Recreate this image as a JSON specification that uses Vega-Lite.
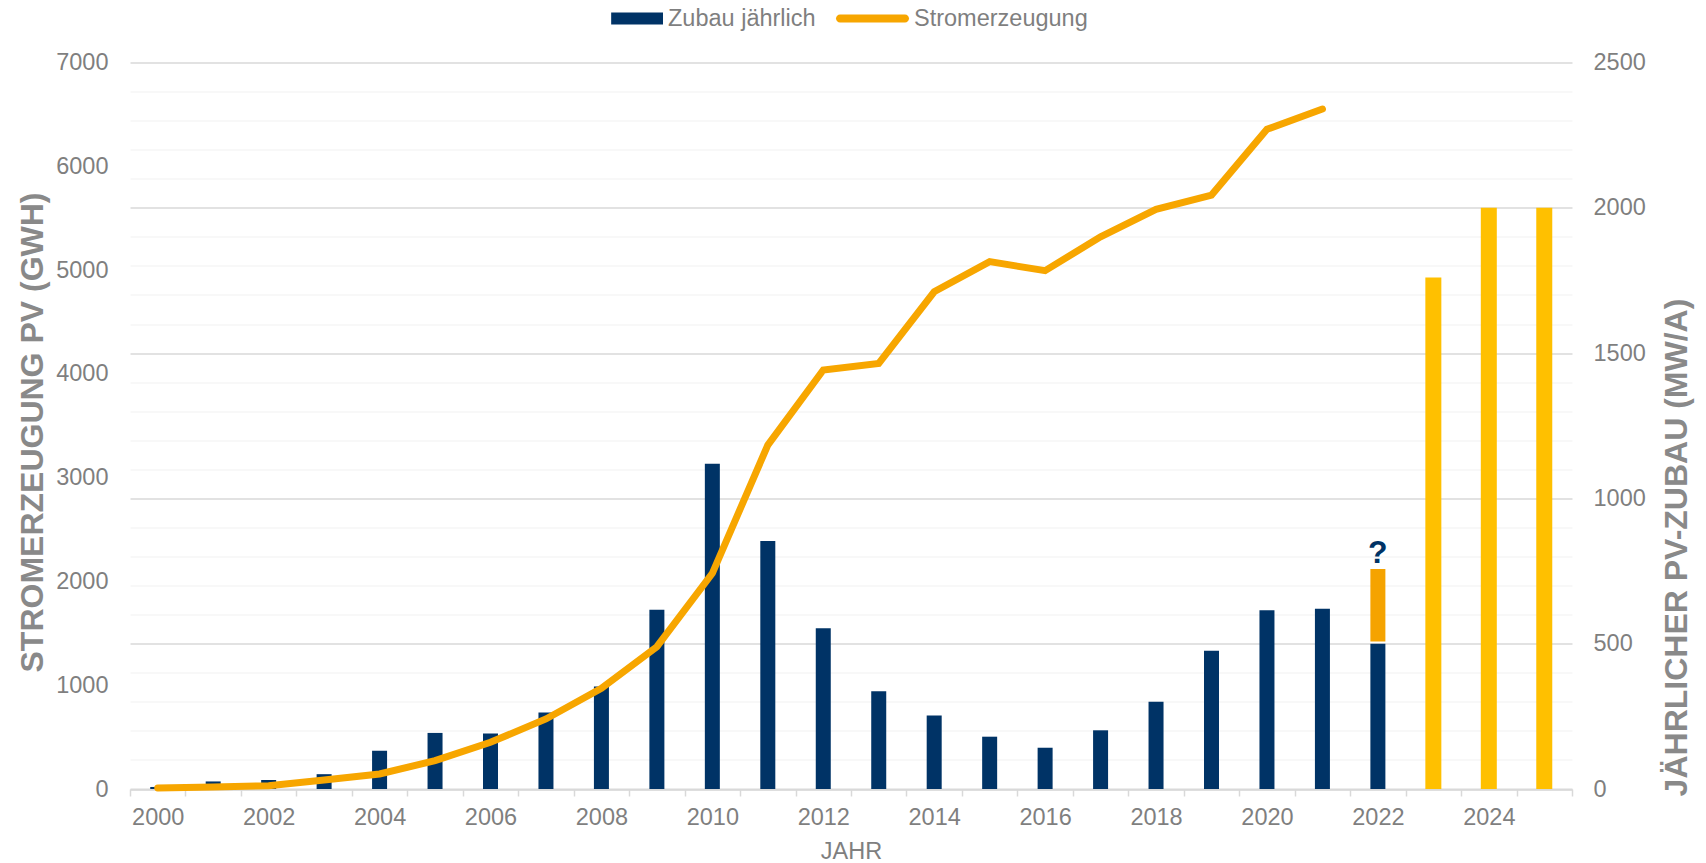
{
  "$schema": "https://vega.github.io/schema/vega-lite/v6.json",
  "width": 1442,
  "height": 726.5,
  "autosize": {"type": "none"},
  "padding": {"left": 130, "top": 62.5, "right": 134, "bottom": 73.5},
  "background": "white",
  "config": {
    "view": {"stroke": null},
    "font": "Liberation Sans",
    "text": {"font": "Liberation Sans"}
  },
  "datasets": {
    "zubau": [
      {"year": "2000", "mw": 7, "series": "Zubau jährlich"},
      {"year": "2001", "mw": 26, "series": "Zubau jährlich"},
      {"year": "2002", "mw": 31, "series": "Zubau jährlich"},
      {"year": "2003", "mw": 51, "series": "Zubau jährlich"},
      {"year": "2004", "mw": 132, "series": "Zubau jährlich"},
      {"year": "2005", "mw": 193, "series": "Zubau jährlich"},
      {"year": "2006", "mw": 191, "series": "Zubau jährlich"},
      {"year": "2007", "mw": 263, "series": "Zubau jährlich"},
      {"year": "2008", "mw": 353, "series": "Zubau jährlich"},
      {"year": "2009", "mw": 617, "series": "Zubau jährlich"},
      {"year": "2010", "mw": 1119, "series": "Zubau jährlich"},
      {"year": "2011", "mw": 853, "series": "Zubau jährlich"},
      {"year": "2012", "mw": 553, "series": "Zubau jährlich"},
      {"year": "2013", "mw": 336, "series": "Zubau jährlich"},
      {"year": "2014", "mw": 253, "series": "Zubau jährlich"},
      {"year": "2015", "mw": 180, "series": "Zubau jährlich"},
      {"year": "2016", "mw": 142, "series": "Zubau jährlich"},
      {"year": "2017", "mw": 202, "series": "Zubau jährlich"},
      {"year": "2018", "mw": 300, "series": "Zubau jährlich"},
      {"year": "2019", "mw": 476, "series": "Zubau jährlich"},
      {"year": "2020", "mw": 615, "series": "Zubau jährlich"},
      {"year": "2021", "mw": 620, "series": "Zubau jährlich"},
      {"year": "2022", "mw": 500, "series": "Zubau jährlich"}
    ],
    "offen": [
      {"year": "2022", "mw": 508, "mw2": 757}
    ],
    "frage": [
      {"year": "2022", "mw": 757, "label": "?"}
    ],
    "plan": [
      {"year": "2023", "mw": 1760},
      {"year": "2024", "mw": 2000},
      {"year": "2025", "mw": 2000}
    ],
    "strom": [
      {"year": "2000", "gwh": 10, "series": "Stromerzeugung"},
      {"year": "2001", "gwh": 19, "series": "Stromerzeugung"},
      {"year": "2002", "gwh": 32, "series": "Stromerzeugung"},
      {"year": "2003", "gwh": 87, "series": "Stromerzeugung"},
      {"year": "2004", "gwh": 145, "series": "Stromerzeugung"},
      {"year": "2005", "gwh": 273, "series": "Stromerzeugung"},
      {"year": "2006", "gwh": 450, "series": "Stromerzeugung"},
      {"year": "2007", "gwh": 675, "series": "Stromerzeugung"},
      {"year": "2008", "gwh": 970, "series": "Stromerzeugung"},
      {"year": "2009", "gwh": 1371, "series": "Stromerzeugung"},
      {"year": "2010", "gwh": 2078, "series": "Stromerzeugung"},
      {"year": "2011", "gwh": 3314, "series": "Stromerzeugung"},
      {"year": "2012", "gwh": 4037, "series": "Stromerzeugung"},
      {"year": "2013", "gwh": 4101, "series": "Stromerzeugung"},
      {"year": "2014", "gwh": 4791, "series": "Stromerzeugung"},
      {"year": "2015", "gwh": 5081, "series": "Stromerzeugung"},
      {"year": "2016", "gwh": 4994, "series": "Stromerzeugung"},
      {"year": "2017", "gwh": 5321, "series": "Stromerzeugung"},
      {"year": "2018", "gwh": 5585, "series": "Stromerzeugung"},
      {"year": "2019", "gwh": 5723, "series": "Stromerzeugung"},
      {"year": "2020", "gwh": 6356, "series": "Stromerzeugung"},
      {"year": "2021", "gwh": 6552, "series": "Stromerzeugung"}
    ]
  },
  "encoding": {
    "x": {
      "field": "year",
      "type": "ordinal",
      "scale": {
        "domain": ["2000","2001","2002","2003","2004","2005","2006","2007","2008","2009","2010","2011","2012","2013","2014","2015","2016","2017","2018","2019","2020","2021","2022","2023","2024","2025"],
        "paddingInner": 0,
        "paddingOuter": 0
      },
      "axis": {
        "orient": "bottom",
        "tickBand": "extent",
        "ticks": true,
        "tickSize": 7,
        "tickColor": "#d9d9d9",
        "tickWidth": 1.5,
        "domain": true,
        "domainColor": "#d9d9d9",
        "domainWidth": 2,
        "grid": false,
        "labelExpr": "toNumber(datum.value) % 2 === 0 ? datum.label : ''",
        "labelAngle": 0,
        "labelOverlap": false,
        "labelPadding": 9,
        "labelFont": "Liberation Sans",
        "labelFontSize": 23.5,
        "labelColor": "#7f7f7f",
        "title": "JAHR",
        "titleFont": "Liberation Sans",
        "titleFontSize": 23.5,
        "titleFontWeight": "normal",
        "titleColor": "#7f7f7f",
        "titleY": 69,
        "titleBaseline": "alphabetic"
      }
    }
  },
  "layer": [
    {
      "encoding": {
        "y": {
          "field": "mw",
          "type": "quantitative",
          "title": "JÄHRLICHER PV-ZUBAU (MW/A)",
          "scale": {"domain": [0, 2500], "nice": false},
          "axis": {
            "orient": "right",
            "values": [0,100,200,300,400,500,600,700,800,900,1000,1100,1200,1300,1400,1500,1600,1700,1800,1900,2000,2100,2200,2300,2400,2500],
            "format": "d",
            "labelExpr": "datum.value % 500 === 0 ? datum.label : ''",
            "labelOverlap": false,
            "labelFlush": false,
            "grid": true,
            "gridColor": {"condition": {"test": "datum.value % 500 === 0", "value": "#d9d9d9"}, "value": "#f2f2f2"},
            "gridWidth": {"condition": {"test": "datum.value % 500 === 0", "value": 1.5}, "value": 1.2},
            "ticks": false,
            "domain": false,
            "labelPadding": 21,
            "labelFont": "Liberation Sans",
            "labelFontSize": 23.5,
            "labelColor": "#7f7f7f",
            "titleFont": "Liberation Sans",
            "titleFontSize": 32,
            "titleFontWeight": "bold",
            "titleColor": "#898989",
            "titleAngle": 270,
            "titleX": 104,
            "titleY": 484.5,
            "titleBaseline": "middle",
            "titleAlign": "center"
          }
        }
      },
      "layer": [
        {
          "data": {"name": "zubau"},
          "mark": {"type": "bar", "width": 15},
          "encoding": {
            "color": {
              "field": "series",
              "type": "nominal",
              "scale": {"domain": ["Zubau jährlich", "Stromerzeugung"], "range": ["#003366", "#F7A600"]},
              "legend": {
                "orient": "none",
                "legendX": 460,
                "legendY": -80.5,
                "direction": "horizontal",
                "title": null,
                "padding": 0,
                "labelFont": "Liberation Sans",
                "labelFontSize": 23.5,
                "labelColor": "#7f7f7f",
                "labelLimit": 400,
                "labelOffset": 5,
                "columnPadding": 20,
                "symbolSize": 5329,
                "symbolType": "M-1,-0.11H1V0.11H-1Z",
                "symbolStrokeWidth": 0,
                "encode": {
                  "symbols": {
                    "update": {
                      "shape": {"signal": "datum.value === 'Zubau jährlich' ? 'M-0.42,-0.165H1V0.165H-0.42Z' : 'M-0.89,-0.11H0.89A0.11,0.11,0,0,1,0.89,0.11H-0.89A0.11,0.11,0,0,1,-0.89,-0.11Z'"},
                      "fill": {"scale": "color", "field": "value"},
                      "stroke": {"value": "transparent"},
                      "strokeWidth": {"value": 0},
                      "opacity": {"value": 1},
                      "size": {"value": 5329}
                    }
                  }
                }
              }
            }
          }
        },
        {
          "data": {"name": "offen"},
          "mark": {"type": "bar", "width": 15, "color": "#F5A300"},
          "encoding": {
            "y2": {"field": "mw2"}
          }
        },
        {
          "data": {"name": "plan"},
          "mark": {"type": "bar", "width": 16, "color": "#FFC000"}
        },
        {
          "data": {"name": "frage"},
          "mark": {"type": "text", "font": "Liberation Sans", "fontSize": 32, "fontWeight": "bold", "color": "#003366", "baseline": "alphabetic", "align": "center", "dy": -6},
          "encoding": {
            "text": {"field": "label"}
          }
        }
      ]
    },
    {
      "data": {"name": "strom"},
      "mark": {"type": "line", "strokeWidth": 7, "strokeCap": "round"},
      "encoding": {
        "y": {
          "field": "gwh",
          "type": "quantitative",
          "title": "STROMERZEUGUNG PV (GWH)",
          "scale": {"domain": [0, 7000], "nice": false},
          "axis": {
            "orient": "left",
            "values": [0,1000,2000,3000,4000,5000,6000,7000],
            "format": "d",
            "grid": false,
            "ticks": false,
            "domain": false,
            "labelPadding": 22,
            "labelFlush": false,
            "labelFont": "Liberation Sans",
            "labelFontSize": 23.5,
            "labelColor": "#7f7f7f",
            "titleFont": "Liberation Sans",
            "titleFontSize": 32,
            "titleFontWeight": "bold",
            "titleColor": "#898989",
            "titleAngle": 270,
            "titleX": -98,
            "titleY": 369.5,
            "titleBaseline": "middle",
            "titleAlign": "center"
          }
        },
        "color": {"field": "series", "type": "nominal"}
      }
    }
  ],
  "resolve": {"scale": {"y": "independent"}}
}
